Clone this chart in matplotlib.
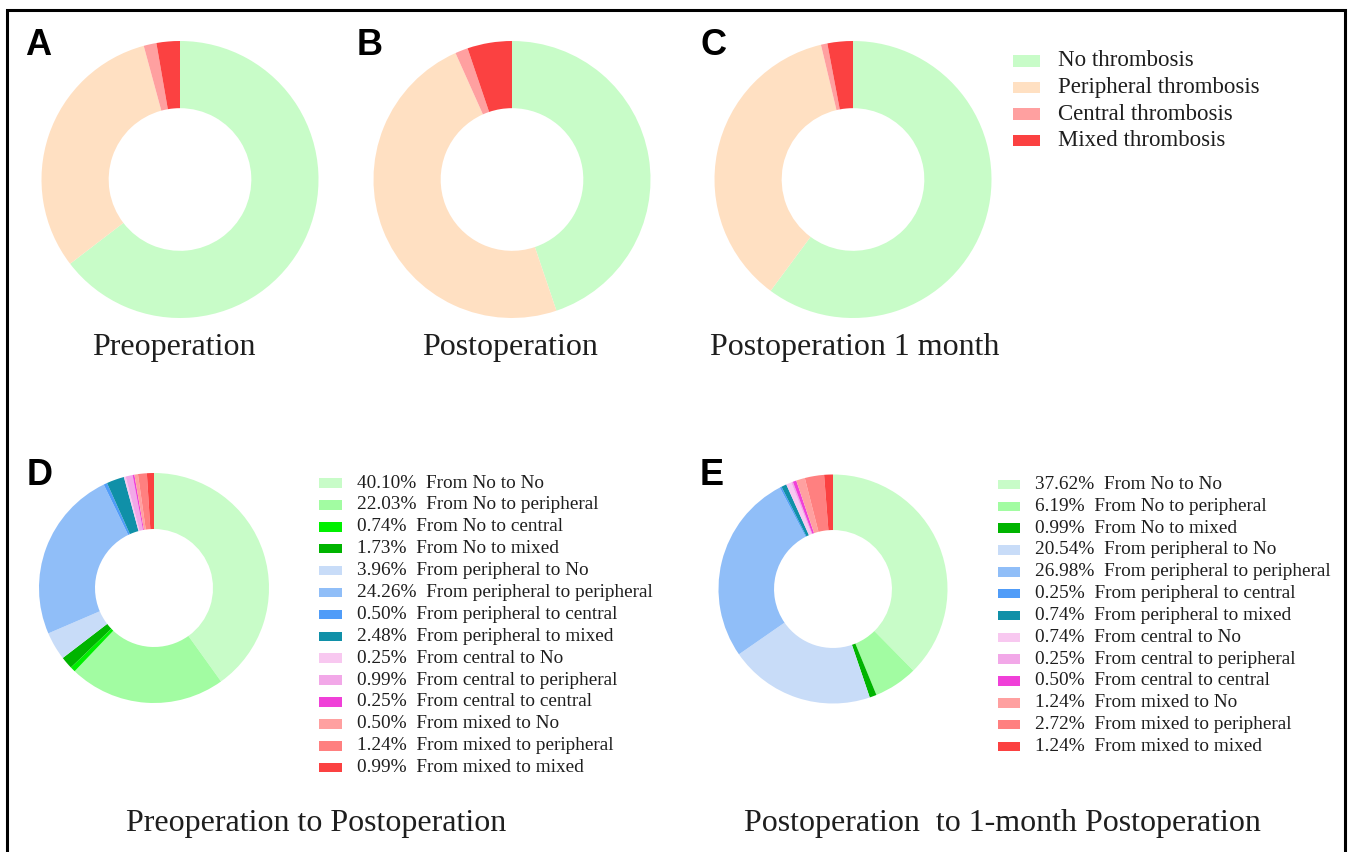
import matplotlib
matplotlib.use("Agg")
import matplotlib.pyplot as plt
from matplotlib.patches import Rectangle
from matplotlib.lines import Line2D

W, H = 1350, 852

# ---------------- data ----------------
state_labels = ["No thrombosis", "Peripheral thrombosis", "Central thrombosis", "Mixed thrombosis"]
state_colors = ["#c8fcc8", "#ffe0c2", "#ffa0a0", "#fb4141"]
preop_values = [64.60, 31.20, 1.49, 2.73]
postop_values = [44.81, 48.52, 1.49, 5.20]
month1_values = [60.14, 36.14, 0.75, 2.97]
top_titles = ["Preoperation", "Postoperation", "Postoperation 1 month"]
top_letters = ["A", "B", "C"]

d_labels = ["From No to No", "From No to peripheral", "From No to central", "From No to mixed",
            "From peripheral to No", "From peripheral to peripheral", "From peripheral to central",
            "From peripheral to mixed", "From central to No", "From central to peripheral",
            "From central to central", "From mixed to No", "From mixed to peripheral",
            "From mixed to mixed"]
d_values = [40.10, 22.03, 0.74, 1.73, 3.96, 24.26, 0.50, 2.48, 0.25, 0.99, 0.25, 0.50, 1.24, 0.99]
d_colors = ["#c8fcc8", "#a2fca2", "#00f000", "#00b400", "#c8dcf8", "#90bef8", "#509cf8",
            "#1090a8", "#f8c8f0", "#f2a8e8", "#f040d8", "#ffa0a0", "#ff8080", "#fb4141"]

e_labels = ["From No to No", "From No to peripheral", "From No to mixed",
            "From peripheral to No", "From peripheral to peripheral", "From peripheral to central",
            "From peripheral to mixed", "From central to No", "From central to peripheral",
            "From central to central", "From mixed to No", "From mixed to peripheral",
            "From mixed to mixed"]
e_values = [37.62, 6.19, 0.99, 20.54, 26.98, 0.25, 0.74, 0.74, 0.25, 0.50, 1.24, 2.72, 1.24]
e_colors = ["#c8fcc8", "#a2fca2", "#00b400", "#c8dcf8", "#90bef8", "#509cf8", "#1090a8",
            "#f8c8f0", "#f2a8e8", "#f040d8", "#ffa0a0", "#ff8080", "#fb4141"]

bottom_titles = ["Preoperation to Postoperation", "Postoperation  to 1-month Postoperation"]
bottom_letters = ["D", "E"]

# ---------------- figure ----------------
fig = plt.figure(figsize=(W / 100, H / 100), dpi=100)
fig.patch.set_facecolor("white")

SERIF = "Liberation Serif"
SANS = "Liberation Sans"
TXT = "#1e1e1e"


def fx(x):
    return x / W


def fy(y):
    return 1 - y / H


def donut(cx, cy, r, values, colors, inner_ratio):
    ax = fig.add_axes([fx(cx - r), fy(cy + r), 2 * r / W, 2 * r / H])
    ax.pie(values, colors=colors, startangle=90, counterclock=False, radius=1.0,
           wedgeprops=dict(width=1 - inner_ratio, linewidth=0, edgecolor="none"))
    ax.set_xlim(-1, 1)
    ax.set_ylim(-1, 1)
    ax.set_aspect("auto")
    ax.axis("off")
    return ax


# top donuts
top_centers = [(180, 179.5), (512, 179.5), (853, 179.5)]
top_values = [preop_values, postop_values, month1_values]
for (cx, cy), vals in zip(top_centers, top_values):
    donut(cx, cy, 138.5, vals, state_colors, 0.515)

top_title_x = [174, 510, 855]
for t, x in zip(top_titles, top_title_x):
    fig.text(fx(x), fy(355), t, fontsize=23, family=SERIF, color=TXT, ha="center", va="baseline")

top_letter_pos = [(25, 55), (357, 55), (700, 55)]
for l, (x, y) in zip(top_letters, top_letter_pos):
    fig.text(fx(x), fy(y), l, fontsize=26, family=SANS, fontweight="bold", color="black",
             ha="left", va="baseline")

# top legend
for i, (lab, col) in enumerate(zip(state_labels, state_colors)):
    yc = 61 + i * 26.5
    fig.patches.append(Rectangle((fx(1013), fy(yc + 5.5)), 27 / W, 11 / H, transform=fig.transFigure,
                                 facecolor=col, edgecolor="none"))
    fig.text(fx(1058), fy(yc), lab, fontsize=16.5, family=SERIF, color=TXT, ha="left", va="center")

# bottom donuts
donut(154, 588, 115, d_values, d_colors, 0.513)
donut(833, 589, 114.5, e_values, e_colors, 0.515)


def legend_block(labels, values, colors, x_sq, sq_w, x_txt, y0, dy):
    for i, (lab, v, col) in enumerate(zip(labels, values, colors)):
        yc = y0 + i * dy
        fig.patches.append(Rectangle((fx(x_sq), fy(yc + 4.75)), sq_w / W, 9.5 / H,
                                     transform=fig.transFigure, facecolor=col, edgecolor="none"))
        fig.text(fx(x_txt), fy(yc), f"{v:.2f}%  {lab}", fontsize=13.9, family=SERIF, color=TXT,
                 ha="left", va="center")


legend_block(d_labels, d_values, d_colors, 319, 23, 357, 483, 21.9)
legend_block(e_labels, e_values, e_colors, 998, 22, 1035, 484.5, 21.83)

bottom_title_x = [316, 1002]
for t, x in zip(bottom_titles, bottom_title_x):
    fig.text(fx(x), fy(831), t, fontsize=23, family=SERIF, color=TXT, ha="center", va="baseline")

bottom_letter_pos = [(27, 485), (700, 485)]
for l, (x, y) in zip(bottom_letters, bottom_letter_pos):
    fig.text(fx(x), fy(y), l, fontsize=26, family=SANS, fontweight="bold", color="black",
             ha="left", va="baseline")

# frame (left, top, right)
frame = Line2D([fx(7), fx(7), fx(1345), fx(1345)], [fy(860), fy(10), fy(10), fy(860)],
               transform=fig.transFigure, color="black", linewidth=2.2, solid_joinstyle="miter")
fig.lines.append(frame)

fig.savefig("out.png", dpi=100, facecolor="white")
